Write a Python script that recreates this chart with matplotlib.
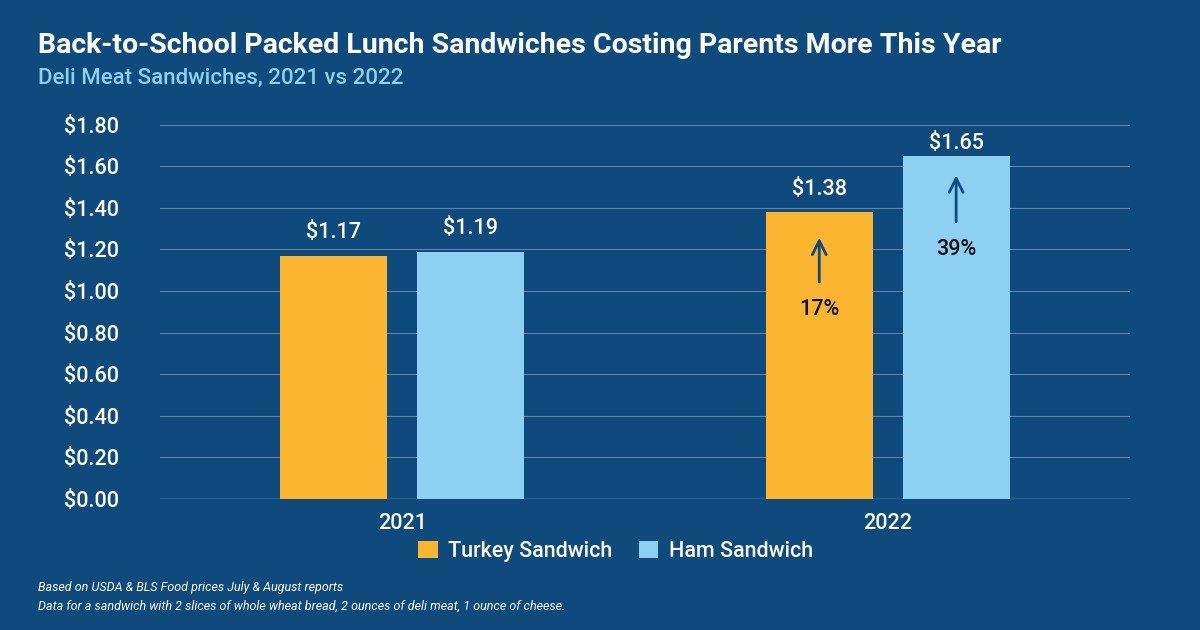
import matplotlib
matplotlib.use("Agg")
import matplotlib.pyplot as plt
import numpy as np

years = ["2021", "2022"]
turkey = [1.17, 1.38]
ham = [1.19, 1.65]
pct = ["17%", "39%"]
yticks = [0, 0.2, 0.4, 0.6, 0.8, 1.0, 1.2, 1.4, 1.6, 1.8]

BG = "#0e4a7b"
ORANGE = "#fbb531"
LBLUE = "#8dd0f2"
plt.rcParams['font.family'] = ['Roboto', 'DejaVu Sans']
MW = "medium"

fig = plt.figure(figsize=(12, 6.3), dpi=100, facecolor=BG)
ax = fig.add_axes([0.133, 0.208, 0.809, 0.594], facecolor=BG)
x = np.arange(len(years))
off, w = 0.141, 0.22
ax.bar(x - off, turkey, w, color=ORANGE, label="Turkey Sandwich", zorder=3)
ax.bar(x + off, ham, w, color=LBLUE, label="Ham Sandwich", zorder=3)
for i in range(len(years)):
    ax.text(x[i] - off, turkey[i] + 0.06, f"${turkey[i]:.2f}", ha="center", va="bottom", color="white", fontsize=15.5, fontweight=MW)
    ax.text(x[i] + off, ham[i] + 0.06 if i == 0 else ham[i] + 0.01, f"${ham[i]:.2f}", ha="center", va="bottom", color="white", fontsize=15.5, fontweight=MW)
for xc, y0, y1, ty, t in [(x[1] - off, 1.03, 1.27, 0.91, pct[0]), (x[1] + off, 1.32, 1.57, 1.20, pct[1])]:
    ax.annotate("", xy=(xc, y1), xytext=(xc, y0),
                arrowprops=dict(arrowstyle="->", color=BG, lw=2, mutation_scale=25), zorder=4)
    ax.text(xc, ty, t, ha="center", va="center", color="#111111", fontsize=15.5, fontweight=MW, zorder=4)

ax.set_xlim(-0.5, 1.5)
ax.set_ylim(0, 1.8)
ax.set_yticks(yticks)
ax.set_yticklabels([f"${v:.2f}" for v in yticks], color="white", fontsize=15.5, fontweight=MW)
ax.set_xticks(x)
ax.set_xticklabels(years, color="white", fontsize=15.5, fontweight=MW)
ax.tick_params(length=0, pad=10)
for lab in ax.get_yticklabels():
    lab.set_horizontalalignment("left")
    lab.set_x(-0.084)
ax.grid(axis="y", color="#5b86ab", lw=0.8, zorder=0)
for s in ax.spines.values():
    s.set_visible(False)
ax.axhline(0, color="#8fb0cc", lw=1, zorder=2)

leg = fig.legend(loc="center", bbox_to_anchor=(0.513, 0.125), ncol=2, frameon=False,
                 prop={"size": 15.5, "weight": MW}, labelcolor="white", handlelength=0.9, handleheight=0.9, columnspacing=1.2, handletextpad=0.5)

fig.text(0.032, 0.928, "Back-to-School Packed Lunch Sandwiches Costing Parents More This Year",
         color="white", fontsize=20.5, fontweight="bold", va="center")
fig.text(0.032, 0.875, "Deli Meat Sandwiches, 2021 vs 2022", color=LBLUE, fontsize=16, fontweight=MW, va="center")
fig.text(0.032, 0.068, "Based on USDA & BLS Food prices July & August reports", color="white", fontsize=9, style="italic", va="center")
fig.text(0.032, 0.038, "Data for a sandwich with 2 slices of whole wheat bread, 2 ounces of deli meat, 1 ounce of cheese.",
         color="white", fontsize=9, style="italic", va="center")
fig.savefig("out.png", facecolor=BG)
